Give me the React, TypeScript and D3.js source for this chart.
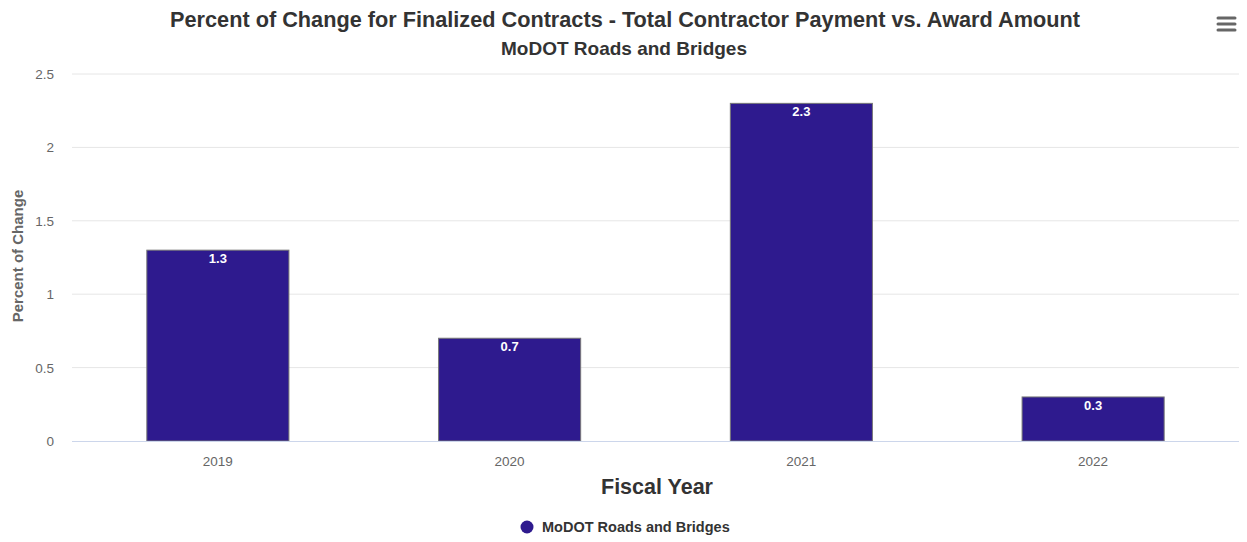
import * as d3 from 'd3';

const years = ['2019', '2020', '2021', '2022'];
const values = [1.3, 0.7, 2.3, 0.3];
const yTicks = [0, 0.5, 1, 1.5, 2, 2.5];
const seriesName = 'MoDOT Roads and Bridges';

const width = 1247;
const height = 542;
const marginLeft = 72;
const marginRight = 8;
const plotTop = 74;
const plotBottom = 441;
const font = '"Liberation Sans", Arial, sans-serif';

export default function App() {
  const x = d3.scaleBand<string>()
    .domain(years)
    .range([marginLeft, width - marginRight])
    .paddingInner(0.513)
    .paddingOuter(0.2565);

  const y = d3.scaleLinear()
    .domain([0, 2.5])
    .range([plotBottom, plotTop]);

  return (
    <svg width={width} height={height} style={{ position: 'absolute', left: 0, top: 0, fontFamily: font }}>
      <rect width={width} height={height} fill="#fff" />
      <text x={625} y={27} textAnchor="middle" fontSize={21.7} fontWeight="bold" fill="#333">
        Percent of Change for Finalized Contracts - Total Contractor Payment vs. Award Amount
      </text>
      <text x={624} y={55} textAnchor="middle" fontSize={19} fontWeight="bold" fill="#333">
        {seriesName}
      </text>

      {/* menu icon */}
      <g stroke="#666" strokeWidth={3} strokeLinecap="round">
        {[18, 24, 30].map((yy) => (
          <line key={yy} x1={1218} x2={1235} y1={yy} y2={yy} />
        ))}
      </g>

      {/* grid */}
      {yTicks.map((t) => (
        <g key={t}>
          {t > 0 && (
            <line x1={marginLeft} x2={width - marginRight} y1={y(t)} y2={y(t)} stroke="#e6e6e6" />
          )}
          <text x={54} y={y(t) + 5} textAnchor="end" fontSize={13.5} fill="#666">{t}</text>
        </g>
      ))}

      {/* bars */}
      {years.map((yr, i) => (
        <g key={yr}>
          <rect
            x={x(yr)}
            y={y(values[i])}
            width={x.bandwidth()}
            height={y(0) - y(values[i])}
            fill="#2e1a8e"
            stroke="#777"
            strokeWidth={1}
          />
          <text
            x={x(yr)! + x.bandwidth() / 2}
            y={y(values[i]) + 13}
            textAnchor="middle"
            fontSize={13}
            fontWeight="bold"
            fill="#fff"
          >
            {values[i]}
          </text>
          <text
            x={x(yr)! + x.bandwidth() / 2}
            y={466}
            textAnchor="middle"
            fontSize={13.5}
            fill="#666"
          >
            {yr}
          </text>
        </g>
      ))}

      <line x1={marginLeft} x2={width - marginRight} y1={plotBottom + 0.5} y2={plotBottom + 0.5} stroke="#ccd6eb" />

      <text
        transform={`translate(23,${(190 + 322) / 2}) rotate(-90)`}
        textAnchor="middle"
        fontSize={15}
        fontWeight="bold"
        fill="#666"
      >
        Percent of Change
      </text>
      <text x={657} y={494} textAnchor="middle" fontSize={21.5} fontWeight="bold" fill="#333">
        Fiscal Year
      </text>

      {/* legend */}
      <circle cx={527} cy={527} r={6.5} fill="#2e1a8e" />
      <text x={542} y={532} fontSize={14.5} fontWeight="bold" fill="#333">{seriesName}</text>
    </svg>
  );
}
